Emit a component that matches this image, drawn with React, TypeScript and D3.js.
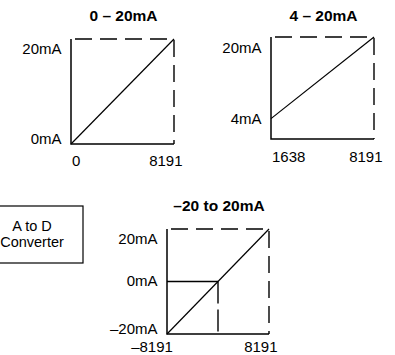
import React from "react";
import * as d3 from "d3";

// ---- Data ----
const titles = ["0 – 20mA", "4 – 20mA", "–20 to 20mA"];
const xDomains: [number, number][] = [[0, 8191], [1638, 8191], [-8191, 8191]];
const yDomains: [number, number][] = [[0, 20], [0, 20], [-20, 20]];
const lineStart = [[0, 0], [1638, 4], [-8191, -20]];
const lineEnd = [[8191, 20], [8191, 20], [8191, 20]];
const xTickLabels = [["0", "8191"], ["1638", "8191"], ["–8191", "8191"]];
const yTickValues = [[20, 0], [20, 4], [20, 0, -20]];
const yTickLabels = [["20mA", "0mA"], ["20mA", "4mA"], ["20mA", "0mA", "–20mA"]];
const boxLines = ["A to D", "Converter"];

// ---- Layout ----
const frames = [
  { x0: 71, x1: 174, y0: 39, y1: 144, titleY: 21, xLabY: 166, leftMode: "start", yDy: [15, 0] },
  { x0: 271, x1: 374, y0: 37, y1: 139, titleY: 21, xLabY: 162, leftMode: "start", yDy: [16, 5.5] },
  { x0: 167, x1: 269, y0: 229, y1: 334, titleY: 211, xLabY: 351.5, leftMode: "middle", yDy: [15, 4.5, 0] },
];

const FONT = "Arial, 'Liberation Sans', Helvetica, sans-serif";
const FS = 15;

function Panel({ i }: { i: number }) {
  const f = frames[i];
  const x = d3.scaleLinear().domain(xDomains[i]).range([f.x0, f.x1]);
  const y = d3.scaleLinear().domain(yDomains[i]).range([f.y1, f.y0]);
  const [xa, xb] = xDomains[i];
  const [ya, yb] = yDomains[i];
  const line = d3.line<number[]>().x((d) => x(d[0])).y((d) => y(d[1]));
  const solid = line([[xa, yb], [xa, ya], [xb, ya]]);
  const dashed = line([[xa, yb], [xb, yb], [xb, ya]]);
  const diag = line([lineStart[i], lineEnd[i]]);
  const midX = (f.x0 + f.x1) / 2;
  return (
    <g>
      <text x={midX + 1} y={f.titleY} textAnchor="middle" fontWeight="bold" fontSize={15.5} fontFamily={FONT}>
        {titles[i]}
      </text>
      <path d={dashed || ""} fill="none" stroke="#000" strokeWidth={1.4} strokeDasharray="17 8" strokeDashoffset={21} />
      <path d={solid || ""} fill="none" stroke="#000" strokeWidth={1.5} />
      {i === 2 && (
        <g>
          <path d={line([[xa, 0], [0, 0]]) || ""} fill="none" stroke="#000" strokeWidth={1.4} />
          <path d={line([[0, 0], [0, ya]]) || ""} fill="none" stroke="#000" strokeWidth={1.4} strokeDasharray="22 6" />
        </g>
      )}
      <path d={diag || ""} fill="none" stroke="#000" strokeWidth={1.2} />
      {yTickValues[i].map((v, k) => (
        <text key={k} x={f.x0 - 9.5} y={y(v) + f.yDy[k]} textAnchor="end" fontSize={FS} fontFamily={FONT}>
          {yTickLabels[i][k]}
        </text>
      ))}
      {f.leftMode === "start" ? (
        <text x={f.x0 + 1} y={f.xLabY} textAnchor="start" fontSize={FS} fontFamily={FONT}>
          {xTickLabels[i][0]}
        </text>
      ) : (
        <text x={f.x0 - 15} y={f.xLabY} textAnchor="middle" fontSize={FS} fontFamily={FONT}>
          {xTickLabels[i][0]}
        </text>
      )}
      <text x={f.x1 + 8.5} y={f.xLabY} textAnchor="end" fontSize={FS} fontFamily={FONT}>
        {xTickLabels[i][1]}
      </text>
    </g>
  );
}

export default function App() {
  return (
    <svg width={395} height={355} style={{ position: "absolute", left: 0, top: 0, background: "#fff" }}>
      <rect x={0} y={0} width={395} height={355} fill="#fff" />
      {[0, 1, 2].map((i) => (
        <Panel key={i} i={i} />
      ))}
      <rect x={-22} y={206} width={105} height={57} fill="none" stroke="#000" strokeWidth={1.2} />
      {boxLines.map((t, k) => (
        <text key={k} x={32} y={230.5 + k * 16} textAnchor="middle" fontSize={14.5} fontFamily={FONT}>
          {t}
        </text>
      ))}
    </svg>
  );
}
